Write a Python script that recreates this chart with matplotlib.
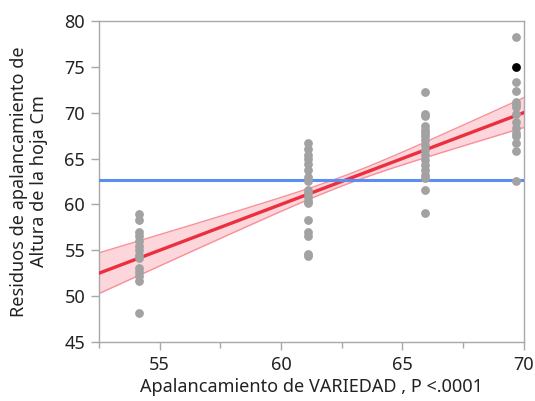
import numpy as np
import matplotlib
matplotlib.use("Agg")
import matplotlib.pyplot as plt
from matplotlib.ticker import MultipleLocator

plt.rcParams['font.family'] = ['Noto Sans', 'DejaVu Sans']

# Leverage positions (x) for each VARIEDAD level and the leverage residuals (y)
group_x = [54.15, 61.1, 65.95, 69.7]
group_y = [
    [59.0, 58.3, 57.0, 56.6, 56.0, 55.5, 55.0, 54.5, 54.2, 53.1, 52.6, 52.2, 51.6, 48.2],
    [66.7, 66.0, 65.4, 65.0, 64.4, 63.7, 63.0, 62.6, 61.6, 61.2, 60.8, 60.4, 60.2,
     58.3, 57.0, 56.6, 54.6, 54.4],
    [72.2, 69.9, 69.6, 68.5, 68.1, 67.8, 67.4, 67.0, 66.5, 65.9, 65.4, 64.8, 64.3,
     63.8, 63.2, 62.9, 61.6, 59.1],
    [78.2, 73.3, 72.4, 71.2, 70.9, 70.6, 69.8, 69.0, 68.3, 67.8, 67.4, 66.7, 65.8, 62.5],
]
selected_point = (69.7, 75.0)

# Horizontal line at the mean response and the leverage fit line (y = x)
mean_response = 62.7
fit_slope = 1.0
fit_intercept = 0.0

# Confidence curve shape: half-width at the centre and its growth with distance
band_center = 62.7
band_half_min = 0.5
band_growth = 0.212

x_min, x_max = 52.5, 70.0

fig = plt.figure(figsize=(5.35, 4.01), dpi=100)
ax = fig.add_axes([0.185, 0.147, 0.794, 0.801])

xs = np.linspace(x_min, x_max, 200)
fit = fit_intercept + fit_slope * xs
half = np.sqrt(band_half_min ** 2 + (band_growth * (xs - band_center)) ** 2)

ax.fill_between(xs, fit - half, fit + half, color='#fcd6db', lw=0, zorder=1)
ax.plot(xs, fit + half, color='#f7909b', lw=1.0, zorder=2)
ax.plot(xs, fit - half, color='#f7909b', lw=1.0, zorder=2)
ax.plot(xs, fit, color='#ec2f3f', lw=2.4, zorder=3)
ax.axhline(mean_response, color='#5b8ef2', lw=2.2, zorder=3)

for gx, gy in zip(group_x, group_y):
    ax.scatter([gx] * len(gy), gy, s=40, color='#a2a2a2', lw=0, zorder=4)
ax.scatter([selected_point[0]], [selected_point[1]], s=40, color='black', lw=0, zorder=5)

ax.set_xlim(x_min, x_max)
ax.set_ylim(45, 80)
ax.xaxis.set_major_locator(MultipleLocator(5))
ax.xaxis.set_minor_locator(MultipleLocator(2.5))
ax.yaxis.set_major_locator(MultipleLocator(5))

for sp in ax.spines.values():
    sp.set_color('#a8a8a8')
    sp.set_linewidth(1.0)
ax.tick_params(axis='both', which='major', direction='out', length=6, width=1,
               color='#a8a8a8', labelsize=13, labelcolor='#222222', pad=4)
ax.tick_params(axis='x', which='minor', direction='out', length=4, width=1,
               color='#a8a8a8')

ax.set_xlabel('Apalancamiento de VARIEDAD , P <.0001', fontsize=13, color='#222222', labelpad=3)
ax.set_ylabel('Residuos de apalancamiento de\nAltura de la hoja Cm', fontsize=13,
              color='#222222', labelpad=12, linespacing=1.15)

fig.savefig('out.png', dpi=100)
